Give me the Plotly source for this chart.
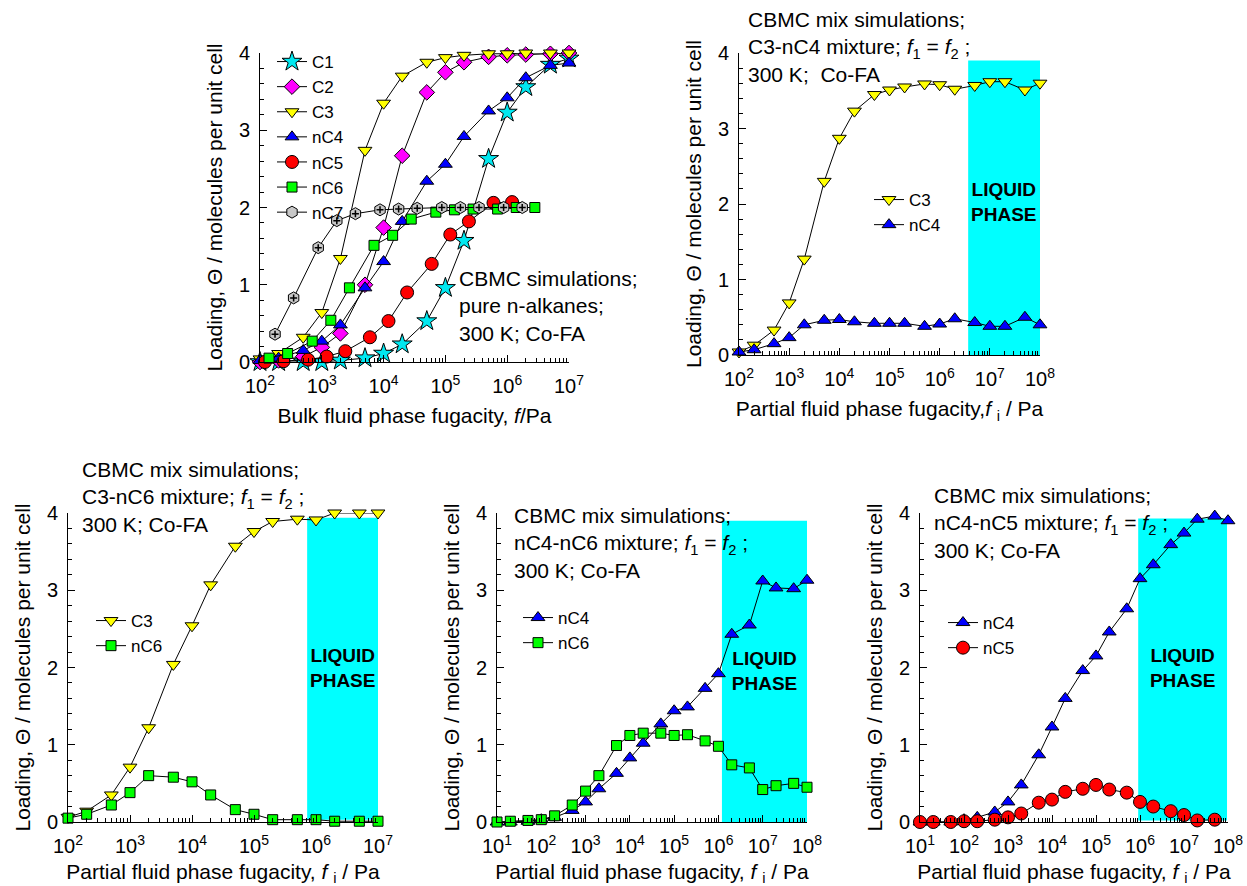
import plotly.graph_objects as go
import numpy as np

# ---------------- data ----------------
# Panel 1: pure components
p1_x16 = [1e2, 2e2, 5e2, 1e3, 2e3, 5e3, 1e4, 2e4, 5e4, 1e5, 2e5, 5e5, 1e6, 2e6, 5e6, 1e7]
C1_y = [0.0, 0.0, 0.0, 0.0, 0.02, 0.05, 0.11, 0.23, 0.53, 0.96, 1.57, 2.63, 3.23, 3.56, 3.85, 3.93]
C2_y = [0.0, 0.02, 0.07, 0.19, 0.37, 1.0, 1.74, 2.67, 3.49, 3.75, 3.88, 3.95, 3.97, 3.98, 3.99, 4.0]
C3_y = [0.04, 0.11, 0.32, 0.64, 1.34, 2.74, 3.35, 3.70, 3.88, 3.94, 3.97, 3.99, 3.99, 4.0, 4.0, 4.0]
nC4_y = [0.02, 0.05, 0.15, 0.27, 0.48, 0.96, 1.30, 1.82, 2.34, 2.56, 2.92, 3.25, 3.42, 3.68, 3.84, 3.87]
nC5_x = [1.2e2, 2.4e2, 6e2, 1.2e3, 2.4e3, 6e3, 1.2e4, 2.4e4, 6e4, 1.2e5, 2.4e5, 6e5, 1.2e6]
nC5_y = [0.0, 0.01, 0.03, 0.07, 0.14, 0.32, 0.53, 0.90, 1.27, 1.65, 1.82, 2.06, 2.07]
nC6_x = [1.4e2, 2.8e2, 7e2, 1.4e3, 2.8e3, 7e3, 1.4e4, 2.8e4, 7e4, 1.4e5, 2.8e5, 7e5, 1.4e6, 2.8e6]
nC6_y = [0.05, 0.11, 0.27, 0.54, 0.96, 1.51, 1.64, 1.85, 1.94, 1.97, 1.98, 1.98, 2.0, 2.0]
nC7_x = [1.75e2, 3.5e2, 8.75e2, 1.75e3, 3.5e3, 8.75e3, 1.75e4, 3.5e4, 8.75e4, 1.75e5, 3.5e5, 8.75e5, 1.75e6]
nC7_y = [0.36, 0.83, 1.48, 1.83, 1.92, 1.97, 1.98, 1.99, 2.0, 2.0, 2.0, 2.0, 2.0]

# Panel 2: C3-nC4 mixture
p2_x = [1e2, 2e2, 5e2, 1e3, 2e3, 5e3, 1e4, 2e4, 5e4, 1e5, 2e5, 5e5, 1e6, 2e6, 5e6, 1e7, 2e7, 5e7, 1e8]
p2_C3 = [0.04, 0.13, 0.33, 0.69, 1.27, 2.30, 2.87, 3.23, 3.45, 3.51, 3.55, 3.59, 3.58, 3.52, 3.57, 3.62, 3.62, 3.51, 3.60]
p2_nC4 = [0.04, 0.07, 0.15, 0.23, 0.40, 0.46, 0.47, 0.44, 0.42, 0.42, 0.42, 0.38, 0.41, 0.48, 0.43, 0.38, 0.38, 0.50, 0.40]
p2_liquid_x = [3.7e6, 1e8]
p2_liquid_y = [0.0, 3.9]

# Panel 3: C3-nC6 mixture
p3_x = [1e2, 2e2, 5e2, 1e3, 2e3, 5e3, 1e4, 2e4, 5e4, 1e5, 2e5, 5e5, 1e6, 2e6, 5e6, 1e7]
p3_C3 = [0.06, 0.14, 0.35, 0.71, 1.22, 2.04, 2.54, 3.07, 3.57, 3.76, 3.89, 3.92, 3.91, 4.0, 4.0, 4.0]
p3_nC6 = [0.05, 0.10, 0.22, 0.38, 0.60, 0.58, 0.52, 0.35, 0.16, 0.10, 0.03, 0.03, 0.03, 0.01, 0.01, 0.01]
p3_liquid_x = [7.2e5, 1e7]
p3_liquid_y = [0.03, 3.94]

# Panel 4: nC4-nC6 mixture
p4_x = [1e1, 2e1, 5e1, 1e2, 2e2, 5e2, 1e3, 2e3, 5e3, 1e4, 2e4, 5e4, 1e5, 2e5, 5e5, 1e6, 2e6, 5e6, 1e7, 2e7, 5e7, 1e8]
p4_nC4 = [0.0, 0.0, 0.01, 0.03, 0.06, 0.15, 0.26, 0.43, 0.63, 0.83, 1.02, 1.27, 1.44, 1.49, 1.73, 1.92, 2.43, 2.55, 3.12, 3.03, 3.02, 3.13]
p4_nC6 = [0.0, 0.01, 0.02, 0.03, 0.08, 0.22, 0.40, 0.60, 0.99, 1.12, 1.15, 1.15, 1.12, 1.13, 1.05, 0.98, 0.74, 0.70, 0.42, 0.47, 0.50, 0.45]
p4_liquid_x = [1.2e6, 1e8]
p4_liquid_y = [0.0, 3.9]

# Panel 5: nC4-nC5 mixture
p5_x = [1e1, 2e1, 5e1, 1e2, 2e2, 5e2, 1e3, 2e3, 5e3, 1e4, 2e4, 5e4, 1e5, 2e5, 5e5, 1e6, 2e6, 5e6, 1e7, 2e7, 5e7, 1e8]
p5_nC4 = [0.0, 0.0, 0.0, 0.03, 0.06, 0.13, 0.26, 0.48, 0.87, 1.23, 1.60, 1.96, 2.15, 2.46, 2.76, 3.15, 3.33, 3.59, 3.74, 3.92, 3.96, 3.90]
p5_nC5_x = p5_x[:21]
p5_nC5 = [0.0, 0.0, 0.0, 0.01, 0.01, 0.03, 0.06, 0.11, 0.25, 0.29, 0.39, 0.43, 0.48, 0.42, 0.38, 0.26, 0.20, 0.14, 0.09, 0.02, 0.03]
p5_liquid_x = [9.1e5, 9.5e7]
p5_liquid_y = [0.02, 3.93]

# ---------------- styling ----------------
W, H = 1247, 886
FONT = "Liberation Sans, Arial, sans-serif"

STY = {
    "C1": dict(symbol="star", size=15, color="#00E8F0"),
    "C2": dict(symbol="diamond", size=12, color="#FF00FF"),
    "C3": dict(symbol="triangle-down", size=12, color="#FFFF00"),
    "nC4": dict(symbol="triangle-up", size=12, color="#0000FF"),
    "nC5": dict(symbol="circle", size=13, color="#FF0000"),
    "nC6": dict(symbol="square", size=10, color="#00FF00"),
    "nC7": dict(symbol="hexagon", size=12, color="#C8C8C8"),
}

fig = go.Figure()


def sfx(i):
    return "" if i == 1 else str(i)


def add_series(i, name, x, y, legend=True):
    s = STY[name]
    fig.add_trace(go.Scatter(
        x=x, y=y, mode="lines+markers", name=name,
        xaxis="x" + sfx(i), yaxis="y" + sfx(i),
        legend="legend" + sfx(i), showlegend=legend,
        line=dict(color="black", width=1),
        marker=dict(symbol=s["symbol"], size=s["size"], color=s["color"],
                    line=dict(color="black", width=1)),
        cliponaxis=False, hoverinfo="x+y+name",
    ))


def add_liquid(i, xr, yr, label_x, label_y):
    fig.add_trace(go.Scatter(
        x=[xr[0], xr[1], xr[1], xr[0], xr[0]],
        y=[yr[0], yr[0], yr[1], yr[1], yr[0]],
        mode="lines", fill="toself", fillcolor="#00FFFF",
        line=dict(width=0, color="#00FFFF"),
        xaxis="x" + sfx(i), yaxis="y" + sfx(i),
        showlegend=False, hoverinfo="skip",
    ))
    fig.add_trace(go.Scatter(
        x=[label_x], y=[label_y], mode="text",
        text=["<b>LIQUID<br>PHASE</b>"],
        textfont=dict(family=FONT, size=19, color="black"),
        xaxis="x" + sfx(i), yaxis="y" + sfx(i),
        showlegend=False, hoverinfo="skip",
    ))


# panel 1
for nm, yy in [("C1", C1_y), ("C2", C2_y), ("C3", C3_y), ("nC4", nC4_y)]:
    add_series(1, nm, p1_x16, yy)
add_series(1, "nC5", nC5_x, nC5_y)
add_series(1, "nC6", nC6_x, nC6_y)
add_series(1, "nC7", nC7_x, nC7_y)
fig.add_trace(go.Scatter(
    x=nC7_x, y=nC7_y, mode="markers", xaxis="x", yaxis="y", showlegend=False,
    marker=dict(symbol="cross-thin", size=5, line=dict(color="black", width=1.5)),
    cliponaxis=False, hoverinfo="skip"))

# panel 2
add_liquid(2, p2_liquid_x, p2_liquid_y, 1.9e7, 2.0)
add_series(2, "C3", p2_x, p2_C3)
add_series(2, "nC4", p2_x, p2_nC4)

# panel 3
add_liquid(3, p3_liquid_x, p3_liquid_y, 2.7e6, 1.97)
add_series(3, "C3", p3_x, p3_C3)
add_series(3, "nC6", p3_x, p3_nC6)

# panel 4
add_liquid(4, p4_liquid_x, p4_liquid_y, 1.1e7, 1.93)
add_series(4, "nC4", p4_x, p4_nC4)
add_series(4, "nC6", p4_x, p4_nC6)

# panel 5
add_liquid(5, p5_liquid_x, p5_liquid_y, 9.3e6, 1.97)
add_series(5, "nC4", p5_x, p5_nC4)
add_series(5, "nC5", p5_nC5_x, p5_nC5)


# ---------------- axes ----------------
def px_dom_x(a, b):
    return [a / W, b / W]


def px_dom_y(top, bottom):
    return [1 - bottom / H, 1 - top / H]


def log_axis(lo, hi, dom, title, anchor):
    vals = [10.0 ** k for k in range(lo, hi + 1)]
    txt = ["10<sup>%d</sup>" % k for k in range(lo, hi + 1)]
    minor = [m * 10.0 ** k for k in range(lo, hi) for m in range(2, 10)]
    return dict(
        type="log", range=[lo, hi], domain=dom, anchor=anchor, automargin=False,
        showline=True, linecolor="black", linewidth=1, mirror=False,
        showgrid=False, zeroline=False,
        ticks="inside", ticklen=7, tickwidth=1, tickcolor="black",
        tickmode="array", tickvals=vals, ticktext=txt, ticklabelstandoff=6,
        minor=dict(tickmode="array", tickvals=minor, ticks="inside", ticklen=4,
                   tickcolor="black", tickwidth=1, showgrid=False),
        tickfont=dict(family=FONT, size=20, color="black"),
        title=dict(text=title, font=dict(family=FONT, size=21, color="black"), standoff=12),
    )


def lin_axis(dom, anchor):
    return dict(
        range=[0, 4], domain=dom, anchor=anchor, automargin=False,
        showline=True, linecolor="black", linewidth=1, mirror=False,
        showgrid=False, zeroline=False,
        ticks="inside", ticklen=7, tickwidth=1, tickcolor="black",
        tickmode="linear", tick0=0, dtick=1, ticklabelstandoff=5,
        minor=dict(tickmode="linear", dtick=0.2, ticks="inside", ticklen=4,
                   tickcolor="black", tickwidth=1, showgrid=False),
        tickfont=dict(family=FONT, size=20, color="black"),
        title=dict(text="Loading, \u0398 / molecules per unit cell",
                   font=dict(family=FONT, size=21, color="black"), standoff=10),
    )


xt_partial = "Partial fluid phase fugacity, <i>f</i> <sub>i</sub> / Pa"
panels = {
    1: dict(x=(260, 569), y=(53, 362), lo=2, hi=7, xt="Bulk fluid phase fugacity, <i>f</i>/Pa"),
    2: dict(x=(739, 1040), y=(53, 355), lo=2, hi=8, xt="Partial fluid phase fugacity,<i>f</i> <sub>i</sub> / Pa"),
    3: dict(x=(68, 378), y=(513, 822), lo=2, hi=7, xt=xt_partial),
    4: dict(x=(497, 807), y=(513, 822), lo=1, hi=8, xt=xt_partial),
    5: dict(x=(920, 1228), y=(513, 822), lo=1, hi=8, xt=xt_partial),
}

layout = dict(
    template="none",
    width=W, height=H, margin=dict(l=0, r=0, t=0, b=0, autoexpand=False),
    paper_bgcolor="white", plot_bgcolor="rgba(0,0,0,0)",
    font=dict(family=FONT, size=20, color="black"),
    showlegend=True,
)
for i, p in panels.items():
    layout["xaxis" + sfx(i)] = log_axis(p["lo"], p["hi"], px_dom_x(*p["x"]), p["xt"], "y" + sfx(i))
    layout["yaxis" + sfx(i)] = lin_axis(px_dom_y(*p["y"]), "x" + sfx(i))

# legends (x, top) in pixels
legpos = {1: (272, 44), 2: (869, 182), 3: (91, 603), 4: (518, 600), 5: (943, 605)}
for i, (lx, ly) in legpos.items():
    layout["legend" + sfx(i)] = dict(
        x=lx / W, y=1 - ly / H, xanchor="left", yanchor="top",
        bgcolor="rgba(0,0,0,0)", borderwidth=0,
        font=dict(family=FONT, size=17, color="black"),
        tracegroupgap=0, itemclick=False, itemdoubleclick=False,
    )

fig.update_layout(**layout)

# text annotations (left x, centre of middle line) in pixels
notes = [
    (457, 306, "CBMC simulations;<br>pure n-alkanes;<br>300 K; Co-FA"),
    (746, 47, "CBMC mix simulations;<br>C3-nC4 mixture; <i>f</i><sub>1</sub> = <i>f</i><sub>2</sub> ;<br>300 K;  Co-FA"),
    (80, 497, "CBMC mix simulations;<br>C3-nC6 mixture; <i>f</i><sub>1</sub> = <i>f</i><sub>2</sub> ;<br>300 K; Co-FA"),
    (512, 543, "CBMC mix simulations;<br>nC4-nC6 mixture; <i>f</i><sub>1</sub> = <i>f</i><sub>2</sub> ;<br>300 K; Co-FA"),
    (932, 523, "CBMC mix simulations;<br>nC4-nC5 mixture; <i>f</i><sub>1</sub> = <i>f</i><sub>2</sub> ;<br>300 K; Co-FA"),
]
for (ax_, ay_, t) in notes:
    fig.add_annotation(x=ax_ / W, y=1 - ay_ / H, xref="paper", yref="paper",
                       xanchor="left", yanchor="middle", align="left",
                       text=t, showarrow=False,
                       font=dict(family=FONT, size=21, color="black"))

fig.write_html("out.html")
